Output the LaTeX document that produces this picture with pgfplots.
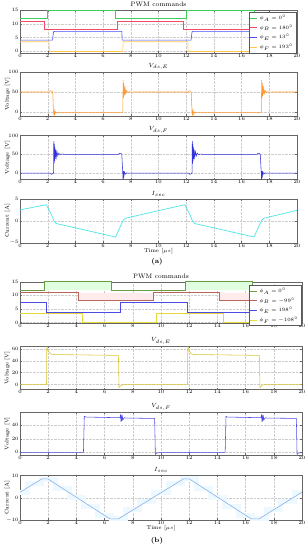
\documentclass[border=0pt]{standalone}
\usepackage{pgfplots}
\pgfplotsset{compat=1.18}
\definecolor{ga}{rgb}{0.25,0.8,0.35}
\definecolor{ra}{rgb}{0.95,0.3,0.4}
\definecolor{ba}{rgb}{0.3,0.3,0.95}
\definecolor{ya}{rgb}{1.0,0.78,0.3}
\definecolor{oa}{rgb}{1.0,0.6,0.2}
\definecolor{bfa}{rgb}{0.2,0.2,0.85}
\definecolor{ca}{rgb}{0.3,0.9,0.9}
\definecolor{gb}{rgb}{0.4,0.62,0.25}
\definecolor{rb}{rgb}{0.72,0.4,0.35}
\definecolor{bb}{rgb}{0.3,0.3,0.9}
\definecolor{yb}{rgb}{0.9,0.85,0.25}
\definecolor{veb}{rgb}{0.85,0.78,0.2}
\definecolor{cb}{rgb}{0.55,0.7,0.92}
\pgfplotsset{
  panel/.style={scale only axis, xmin=0, xmax=20, xtick={0,2,...,20},
    grid=major, grid style={densely dotted, gray!40, line width=0.3pt},
    axis line style={gray!80!black, line width=0.35pt},
    tick style={gray!80!black, line width=0.3pt}, major tick length=1.6pt,
    tick align=inside,
    tick label style={font=\fontsize{4.5}{5}\selectfont},
    xticklabel style={inner sep=1pt},
    yticklabel style={inner sep=1.2pt},
    every axis title/.style={at={(axis description cs:0.5,1)}, anchor=center, yshift=5.5pt, font=\fontsize{6.5}{7}\selectfont},
    every axis y label/.style={at={(axis description cs:-0.045,0.5)}, anchor=center, rotate=90, font=\fontsize{5.5}{6}\selectfont},
    every axis x label/.style={at={(axis description cs:0.5,0)}, anchor=center, yshift=-8pt, font=\fontsize{5.5}{6}\selectfont},
    every axis plot/.append style={line width=0.55pt},
    legend style={font=\fontsize{3.7}{4.5}\selectfont, draw=gray!70!black, line width=0.3pt,
      inner sep=0.7pt, row sep=-0.3pt, cells={anchor=west}},
    legend image code/.code={\draw[#1] (0pt,0pt) -- (7pt,0pt);},
  },
  pa/.style={panel, width=277pt},
  pb/.style={panel, width=282pt},
}
\begin{document}
\begin{tikzpicture}
\useasboundingbox (0,0) rectangle (308pt,-550pt);
% ---------------- (a) ----------------
\begin{axis}[pa, at={(20pt,-10pt)}, anchor=north west, height=43pt,
  ymin=-0.7, ymax=15, ytick={0,5,10,15}, title={PWM commands},
  legend style={at={(axis description cs:0.997,0.95)}, anchor=north east}]
\addplot[ga, line width=0.7pt] coordinates {(0,11.8) (2.0,11.8) (2.0,15) (6.9,15) (6.9,11.8) (12.0,11.8) (12.0,15) (16.95,15) (16.95,11.8) (20,11.8)};
\addlegendentry{$\phi_A=0^\circ$}
\addplot[ra, line width=0.6pt] coordinates {(0,11) (1.75,11) (1.75,8) (7.0,8) (7.0,11) (11.8,11) (11.8,8) (17.05,8) (17.05,11) (20,11)};
\addlegendentry{$\phi_B=180^\circ$}
\addplot[ba, line width=0.6pt] coordinates {(0,4) (2.35,4) (2.42,7) (2.5,7.2) (7.35,7.2) (7.38,4) (12.35,4) (12.42,7) (12.5,7.2) (17.35,7.2) (17.38,4) (20,4)};
\addlegendentry{$\phi_E=13^\circ$}
\addplot[ya, line width=0.6pt] coordinates {(0,3.4) (2.1,3.4) (2.12,0) (2.3,-0.15) (7.42,-0.15) (7.45,3.4) (12.12,3.4) (12.14,0) (12.3,-0.15) (17.42,-0.15) (17.45,3.4) (20,3.4)};
\addlegendentry{$\phi_F=193^\circ$}
\end{axis}
\begin{axis}[pa, at={(20pt,-72pt)}, anchor=north west, height=44pt,
  ymin=-10, ymax=100, ytick={0,50,100}, title={$V_{ds,E}$}, ylabel={Voltage [V]}]
\addplot[oa] coordinates {(0,50) (2.15,50) (2.2,53) (2.3,52) (2.36,50) (2.42,0) (2.45,-8) (2.48,3) (2.51,-5) (2.55,1) (2.6,-3) (2.7,-1) (7.38,-1) (7.42,0) (7.45,80) (7.47,35) (7.49,72) (7.51,40) (7.53,65) (7.56,44) (7.6,58) (7.64,46) (7.7,54) (7.8,48) (7.9,51) (8.0,49.5) (8.2,50)
 (12.15,50) (12.2,53) (12.3,52) (12.36,50) (12.42,0) (12.45,-8) (12.48,3) (12.51,-5) (12.55,1) (12.6,-3) (12.7,-1) (17.38,-1) (17.42,0) (17.45,80) (17.47,35) (17.49,72) (17.51,40) (17.53,65) (17.56,44) (17.6,58) (17.64,46) (17.7,54) (17.8,48) (17.9,51) (18.0,49.5) (18.2,50) (20,50)};
\end{axis}
\begin{axis}[pa, at={(20pt,-135.5pt)}, anchor=north west, height=44pt,
  ymin=-17, ymax=100, ytick={0,50,100}, title={$V_{ds,F}$}, ylabel={Voltage [V]}]
\addplot[bfa] coordinates {(0,0) (2.2,0) (2.25,-3) (2.35,-2) (2.42,0) (2.44,85) (2.46,25) (2.48,78) (2.5,32) (2.52,70) (2.55,38) (2.58,62) (2.62,43) (2.67,57) (2.73,46) (2.8,53) (2.9,49) (3.0,50.5) (3.2,50) (7.1,50) (7.2,53) (7.3,52) (7.35,50) (7.42,0) (7.44,-17) (7.47,5) (7.5,-8) (7.54,3) (7.6,-3) (7.7,0.5) (7.8,0)
 (12.2,0) (12.25,-3) (12.35,-2) (12.42,0) (12.44,85) (12.46,25) (12.48,78) (12.5,32) (12.52,70) (12.55,38) (12.58,62) (12.62,43) (12.67,57) (12.73,46) (12.8,53) (12.9,49) (13.0,50.5) (13.2,50) (17.1,50) (17.2,53) (17.3,52) (17.35,50) (17.42,0) (17.44,-17) (17.47,5) (17.5,-8) (17.54,3) (17.6,-3) (17.7,0.5) (17.8,0) (20,0)};
\end{axis}
\begin{axis}[pa, at={(20pt,-199pt)}, anchor=north west, height=43.7pt,
  ymin=-5, ymax=5, ytick={-5,0,5}, title={$I_{sec}$}, ylabel={Current [A]}, xlabel={Time [$\mu s$]}]
\addplot[ca, line width=0.7pt] coordinates {(0,2.5) (1.9,3.7) (2.3,1.2) (2.45,0) (2.5,-0.2) (2.6,-0.6) (6.9,-3.7) (7.4,-0.2) (7.45,0.1) (7.6,0.6) (11.9,3.7) (12.3,1.2) (12.45,0) (12.5,-0.2) (12.6,-0.6) (16.9,-3.7) (17.4,-0.2) (17.45,0.1) (17.6,0.6) (20,2.4)};
\end{axis}
\node[font=\fontsize{7}{8}\selectfont\bfseries] at (157pt,-262pt) {(a)};
% ---------------- (b) ----------------
\begin{axis}[pb, at={(20pt,-281.7pt)}, anchor=north west, height=41.5pt,
  ymin=-0.3, ymax=15, ytick={0,5,10,15}, title={PWM commands},
  legend style={at={(axis description cs:0.997,0.92)}, anchor=north east}]
\addplot[fill=green!12, draw=none, forget plot] coordinates {(1.7,11.8) (1.7,15) (6.5,15) (6.5,11.8)} --cycle;
\addplot[fill=green!12, draw=none, forget plot] coordinates {(11.7,11.8) (11.7,15) (16.5,15) (16.5,11.8)} --cycle;
\addplot[fill=red!8, draw=none, forget plot] coordinates {(4.15,8) (4.15,11) (9.45,11) (9.45,8)} --cycle;
\addplot[fill=red!8, draw=none, forget plot] coordinates {(14.15,8) (14.15,11) (19.45,11) (19.45,8)} --cycle;
\addplot[gb, line width=0.6pt] coordinates {(0,11.8) (1.7,11.8) (1.7,15) (6.5,15) (6.5,11.8) (11.7,11.8) (11.7,15) (16.5,15) (16.5,11.8) (20,11.8)};
\addlegendentry{$\phi_A=0^\circ$}
\addplot[rb, line width=0.6pt] coordinates {(0,11) (4.15,11) (4.15,8) (9.45,8) (9.45,11) (14.15,11) (14.15,8) (19.45,8) (19.45,11) (20,11)};
\addlegendentry{$\phi_B=-99^\circ$}
\addplot[bb, line width=0.9pt] coordinates {(0,7.3) (1.9,7.3) (1.9,3.8) (7.15,3.8) (7.15,7.3) (11.9,7.3) (11.9,3.8) (17.15,3.8) (17.15,7.3) (20,7.3)};
\addlegendentry{$\phi_E=198^\circ$}
\addplot[yb, line width=0.6pt] coordinates {(0,3.2) (4.4,3.2) (4.4,0) (9.7,0) (9.7,3.2) (14.4,3.2) (14.4,0) (19.7,0) (19.7,3.2) (20,3.2)};
\addlegendentry{$\phi_F=-108^\circ$}
\end{axis}
\begin{axis}[pb, at={(20pt,-346.5pt)}, anchor=north west, height=43pt,
  ymin=-8.5, ymax=64, ytick={0,20,40,60}, title={$V_{ds,E}$}, ylabel={Voltage [V]}]
\addplot[veb] coordinates {(0,0) (1.88,0) (1.9,64) (1.95,60) (2.0,56) (2.05,55) (2.1,53) (2.2,51) (2.4,50.5) (6.98,49) (7.02,-5) (7.1,-3) (7.2,-1) (7.4,0)
 (11.88,0) (11.9,64) (11.95,60) (12.0,56) (12.05,55) (12.1,53) (12.2,51) (12.4,50.5) (16.98,49) (17.02,-5) (17.1,-3) (17.2,-1) (17.4,0) (20,0)};
\end{axis}
\begin{axis}[pb, at={(20pt,-412.3pt)}, anchor=north west, height=42.7pt,
  ymin=-4, ymax=59, ytick={0,20,40}, title={$V_{ds,F}$}, ylabel={Voltage [V]}]
\addplot[bb] coordinates {(0,0) (1.95,0) (2.0,0.8) (2.05,-0.8) (2.1,0) (4.5,0) (4.56,53) (4.7,52) (7.1,51) (7.13,56) (7.16,45) (7.19,55) (7.22,46) (7.26,53) (7.3,48) (7.4,51) (7.5,50.5) (9.55,50) (9.6,-3) (9.7,-1) (9.9,-0.5)
 (11.95,-0.5) (12.0,0.8) (12.05,-0.8) (12.1,0) (14.55,0) (14.61,53) (14.7,52) (17.1,51) (17.13,56) (17.16,45) (17.19,55) (17.22,46) (17.26,53) (17.3,48) (17.4,51) (17.5,50.5) (19.6,50) (19.65,-3) (19.75,-1) (20,-0.5)};
\end{axis}
\begin{axis}[pb, at={(20pt,-475.5pt)}, anchor=north west, height=44.5pt,
  ymin=-10, ymax=10, ytick={-10,0,10}, title={$I_{sec}$}, ylabel={Current [A]}, xlabel={Time [$\mu s$]}]
\addplot[cyan!7, line width=5pt, const plot mark mid] coordinates {(0,2.5) (1,6.3) (2,8.4) (3,4.3) (4,0.2) (5,-3.9) (6,-8.0) (7,-9.4) (8,-5.5) (9,-1.6) (10,2.3) (11,6.2) (12,8.5) (13,4.3) (14,0.2) (15,-3.9) (16,-8.0) (17,-9.4) (18,-5.5) (19,-1.6) (20,2.3)};
\addplot[cb, line width=0.6pt] coordinates {(0,2.5) (1.56,8.5) (1.97,8.5) (6.38,-9.5) (6.98,-9.5) (11.6,8.5) (12.0,8.5) (16.4,-9.5) (16.95,-9.5) (20,2.5)};
\end{axis}
\node[font=\fontsize{7}{8}\selectfont\bfseries] at (157pt,-541pt) {(b)};
\end{tikzpicture}
\end{document}
